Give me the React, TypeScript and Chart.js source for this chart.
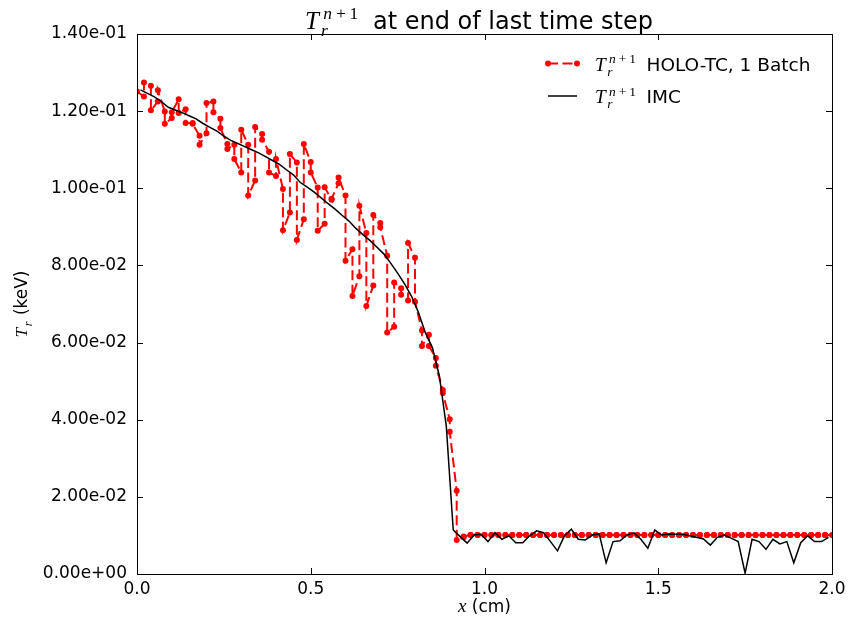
import React, { useEffect, useRef } from "react";
import { Chart, registerables } from "chart.js";

Chart.register(...registerables);

// Cell edges (cm) of the HOLO-TC mesh
const cellEdges = [
  0.0, 0.02, 0.04, 0.06, 0.08, 0.1, 0.12, 0.14, 0.16, 0.18,
  0.2, 0.22, 0.24, 0.26, 0.28, 0.3, 0.32, 0.34, 0.36, 0.38,
  0.4, 0.42, 0.44, 0.46, 0.48, 0.5, 0.52, 0.54, 0.56, 0.58,
  0.6, 0.62, 0.64, 0.66, 0.68, 0.7, 0.72, 0.74, 0.76, 0.78,
  0.8, 0.82, 0.84, 0.86, 0.88, 0.9, 0.92, 0.94, 0.96, 0.98,
  1.0, 1.02, 1.04, 1.06, 1.08, 1.1, 1.12, 1.14, 1.16, 1.18,
  1.2, 1.22, 1.24, 1.26, 1.28, 1.3, 1.32, 1.34, 1.36, 1.38,
  1.4, 1.42, 1.44, 1.46, 1.48, 1.5, 1.52, 1.54, 1.56, 1.58,
  1.6, 1.62, 1.64, 1.66, 1.68, 1.7, 1.72, 1.74, 1.76, 1.78,
  1.8, 1.82, 1.84, 1.86, 1.88, 1.9, 1.92, 1.94, 1.96, 1.98,
  2.0,
];

// Cell centres (cm) of the IMC mesh
const cellCenters = [
  0.01, 0.03, 0.05, 0.07, 0.09, 0.11, 0.13, 0.15, 0.17, 0.19,
  0.21, 0.23, 0.25, 0.27, 0.29, 0.31, 0.33, 0.35, 0.37, 0.39,
  0.41, 0.43, 0.45, 0.47, 0.49, 0.51, 0.53, 0.55, 0.57, 0.59,
  0.61, 0.63, 0.65, 0.67, 0.69, 0.71, 0.73, 0.75, 0.77, 0.79,
  0.81, 0.83, 0.85, 0.87, 0.89, 0.91, 0.93, 0.95, 0.97, 0.99,
  1.01, 1.03, 1.05, 1.07, 1.09, 1.11, 1.13, 1.15, 1.17, 1.19,
  1.21, 1.23, 1.25, 1.27, 1.29, 1.31, 1.33, 1.35, 1.37, 1.39,
  1.41, 1.43, 1.45, 1.47, 1.49, 1.51, 1.53, 1.55, 1.57, 1.59,
  1.61, 1.63, 1.65, 1.67, 1.69, 1.71, 1.73, 1.75, 1.77, 1.79,
  1.81, 1.83, 1.85, 1.87, 1.89, 1.91, 1.93, 1.95, 1.97, 1.99,
];

// HOLO-TC, value at the left edge of each cell (keV)
const holoLeft = [
  0.1251, 0.1274, 0.1202, 0.1254, 0.1167, 0.1197, 0.1195, 0.1169, 0.1167, 0.1113,
  0.1221, 0.1197, 0.1156, 0.1102, 0.1076, 0.1152, 0.0981, 0.1159, 0.1126, 0.1041,
  0.1076, 0.0891, 0.1089, 0.0866, 0.1115, 0.1041, 0.089, 0.1003, 0.0973, 0.1028,
  0.0812, 0.0721, 0.0955, 0.0695, 0.0931, 0.0899, 0.0626, 0.0756, 0.0724, 0.0858,
  0.0706, 0.0591, 0.0591, 0.054, 0.0469, 0.0369, 0.0088, 0.0097, 0.0101, 0.0101,
  0.0101, 0.0101, 0.0101, 0.0101, 0.0101, 0.0101, 0.0101, 0.0101, 0.0101, 0.0101,
  0.0101, 0.0101, 0.0101, 0.0101, 0.0101, 0.0101, 0.0101, 0.0101, 0.0101, 0.0101,
  0.0101, 0.0101, 0.0101, 0.0101, 0.0101, 0.0101, 0.0101, 0.0101, 0.0101, 0.0101,
  0.0101, 0.0101, 0.0101, 0.0101, 0.0101, 0.0101, 0.0101, 0.0101, 0.0101, 0.0101,
  0.0101, 0.0101, 0.0101, 0.0101, 0.0101, 0.0101, 0.0101, 0.0101, 0.0101, 0.0101,
];

// HOLO-TC, value at the right edge of each cell (keV)
const holoRight = [
  0.1238, 0.1266, 0.1225, 0.1199, 0.1182, 0.1231, 0.1205, 0.1169, 0.1136, 0.1143,
  0.1225, 0.118, 0.1115, 0.1113, 0.1041, 0.1113, 0.102, 0.1141, 0.1095, 0.1032,
  0.0998, 0.0937, 0.1067, 0.092, 0.1068, 0.1002, 0.0908, 0.097, 0.1013, 0.0981,
  0.0842, 0.0772, 0.0884, 0.0748, 0.091, 0.0825, 0.0641, 0.0741, 0.0709, 0.082,
  0.0631, 0.062, 0.056, 0.0477, 0.0401, 0.0216, 0.0095, 0.0101, 0.0101, 0.0101,
  0.0101, 0.0101, 0.0101, 0.0101, 0.0101, 0.0101, 0.0101, 0.0101, 0.0101, 0.0101,
  0.0101, 0.0101, 0.0101, 0.0101, 0.0101, 0.0101, 0.0101, 0.0101, 0.0101, 0.0101,
  0.0101, 0.0101, 0.0101, 0.0101, 0.0101, 0.0101, 0.0101, 0.0101, 0.0101, 0.0101,
  0.0101, 0.0101, 0.0101, 0.0101, 0.0101, 0.0101, 0.0101, 0.0101, 0.0101, 0.0101,
  0.0101, 0.0101, 0.0101, 0.0101, 0.0101, 0.0101, 0.0101, 0.0101, 0.0101, 0.0101,
];

// IMC, cell-averaged values (keV)
const imcValues = [
  0.1255, 0.1246, 0.1237, 0.1225, 0.121, 0.1203, 0.1196, 0.1188, 0.118, 0.1168,
  0.1158, 0.1148, 0.1135, 0.1124, 0.1116, 0.1108, 0.11, 0.1092, 0.1082, 0.1072,
  0.1062, 0.1048, 0.1035, 0.1015, 0.1003, 0.099, 0.0975, 0.096, 0.0946, 0.093,
  0.0915, 0.0896, 0.088, 0.0865, 0.0848, 0.083, 0.0806, 0.078, 0.0752, 0.072,
  0.0678, 0.0625, 0.0587, 0.0514, 0.0384, 0.0114, 0.0097, 0.008, 0.0101, 0.0103,
  0.0084, 0.0107, 0.009, 0.0099, 0.0081, 0.0081, 0.0099, 0.0112, 0.0107, 0.0084,
  0.006, 0.0099, 0.0116, 0.009, 0.0088, 0.0101, 0.0104, 0.0029, 0.0084, 0.0086,
  0.0101, 0.0107, 0.009, 0.0067, 0.0114, 0.0101, 0.0104, 0.0103, 0.0103, 0.0099,
  0.0095, 0.0091, 0.0075, 0.0095, 0.0101, 0.0093, 0.0084, 0.0002, 0.009, 0.0084,
  0.0064, 0.009, 0.0078, 0.0084, 0.0029, 0.0081, 0.0099, 0.0084, 0.0084, 0.0095,
];

const xTickValues = [0, 0.5, 1, 1.5, 2];
const xTickLabels = ["0.0", "0.5", "1.0", "1.5", "2.0"];
const yTickValues = [0, 0.02, 0.04, 0.06, 0.08, 0.1, 0.12, 0.14];
const yTickLabels = [
  "0.00e+00", "2.00e-02", "4.00e-02", "6.00e-02",
  "8.00e-02", "1.00e-01", "1.20e-01", "1.40e-01",
];

const titleText = "at end of last time step";
const holoLabel = "HOLO-TC, 1 Batch";
const imcLabel = "IMC";
const xAxisLabel = " (cm)";
const yAxisLabel = " (keV)";

const SANS = '"DejaVu Sans", sans-serif';
const SERIF = '"Liberation Serif", "DejaVu Serif", serif';
const RED = "#ff0000";
const DASH = [10, 4.5];

function drawTr(ctx: CanvasRenderingContext2D, x: number, base: number, s: number, withSup: boolean) {
  const big = 25 * s;
  const small = 17.5 * s;
  ctx.textAlign = "left";
  ctx.textBaseline = "alphabetic";
  ctx.font = `italic ${big}px ${SERIF}`;
  ctx.fillText("T", x, base);
  ctx.font = `italic ${small}px ${SERIF}`;
  ctx.fillText("r", x + 16 * s, base + 6.5 * s);
  if (withSup) {
    ctx.fillText("n", x + 18.3 * s, base - 10 * s);
    ctx.font = `${small}px ${SERIF}`;
    ctx.fillText("+", x + 31 * s, base - 10 * s);
    ctx.fillText("1", x + 44.5 * s, base - 10 * s);
  }
}

const decorPlugin = {
  id: "decor",
  afterDraw(chart: any) {
    const { ctx, chartArea: a, scales } = chart;
    const xs = scales.x;
    const ys = scales.y;
    ctx.save();
    ctx.strokeStyle = "#000";
    ctx.fillStyle = "#000";
    ctx.lineWidth = 1;
    ctx.setLineDash([]);
    // frame
    ctx.strokeRect(a.left + 0.5, a.top + 0.5, a.right - a.left, a.bottom - a.top);
    // inward ticks on all sides
    const tl = 6;
    ctx.beginPath();
    xTickValues.forEach((v) => {
      const px = Math.round(xs.getPixelForValue(v)) + 0.5;
      ctx.moveTo(px, a.bottom);
      ctx.lineTo(px, a.bottom - tl);
      ctx.moveTo(px, a.top);
      ctx.lineTo(px, a.top + tl);
    });
    yTickValues.forEach((v) => {
      const py = Math.round(ys.getPixelForValue(v)) + 0.5;
      ctx.moveTo(a.left, py);
      ctx.lineTo(a.left + tl, py);
      ctx.moveTo(a.right, py);
      ctx.lineTo(a.right - tl, py);
    });
    ctx.stroke();

    // title
    const tx = 305;
    drawTr(ctx, tx, 29, 1, true);
    ctx.font = `24px ${SANS}`;
    ctx.textAlign = "left";
    ctx.fillText(titleText, tx + 68, 29);

    // legend
    const lx0 = 548;
    const lx1 = 577;
    const r1 = 63.5;
    const r2 = 96;
    ctx.strokeStyle = RED;
    ctx.lineWidth = 2;
    ctx.setLineDash(DASH);
    ctx.beginPath();
    ctx.moveTo(lx0, r1);
    ctx.lineTo(lx1, r1);
    ctx.stroke();
    ctx.setLineDash([]);
    ctx.fillStyle = RED;
    [lx0, lx1].forEach((px) => {
      ctx.beginPath();
      ctx.arc(px, r1, 3, 0, Math.PI * 2);
      ctx.fill();
    });
    ctx.strokeStyle = "#000";
    ctx.lineWidth = 1.5;
    ctx.beginPath();
    ctx.moveTo(lx0, r2);
    ctx.lineTo(lx1, r2);
    ctx.stroke();
    ctx.fillStyle = "#000";
    const s = 0.77;
    drawTr(ctx, 595, 70.7, s, true);
    drawTr(ctx, 595, 103.2, s, true);
    ctx.font = `18.5px ${SANS}`;
    ctx.textAlign = "left";
    ctx.fillText(holoLabel, 646.5, 70.7);
    ctx.fillText(imcLabel, 646.5, 103.2);

    // x-axis label
    ctx.font = `17px ${SANS}`;
    const restW = ctx.measureText(xAxisLabel).width;
    ctx.font = `italic 19px ${SERIF}`;
    const xW = ctx.measureText("x").width;
    const cx = (a.left + a.right) / 2;
    const startX = cx - (xW + restW) / 2;
    ctx.fillText("x", startX, 612);
    ctx.font = `17px ${SANS}`;
    ctx.fillText(xAxisLabel, startX + xW, 612);

    // y-axis label
    ctx.save();
    const cy = (a.top + a.bottom) / 2;
    ctx.translate(27, cy);
    ctx.rotate(-Math.PI / 2);
    ctx.font = `17px ${SANS}`;
    const kevW = ctx.measureText(yAxisLabel).width;
    const trW = 17;
    const sx = -(trW + kevW) / 2;
    drawTr(ctx, sx, 0, 0.7, false);
    ctx.font = `17px ${SANS}`;
    ctx.textAlign = "left";
    ctx.fillText(yAxisLabel, sx + trW, 0);
    ctx.restore();

    ctx.restore();
  },
};

export default function App() {
  const canvasRef = useRef<HTMLCanvasElement | null>(null);

  useEffect(() => {
    if (!canvasRef.current) return;
    const holoData: { x: number; y: number }[] = [];
    holoLeft.forEach((v, i) => {
      holoData.push({ x: cellEdges[i], y: v });
      holoData.push({ x: cellEdges[i + 1], y: holoRight[i] });
    });
    const imcData = imcValues.map((v, i) => ({ x: cellCenters[i], y: v }));

    const chart = new Chart(canvasRef.current, {
      type: "scatter",
      data: {
        datasets: [
          {
            label: "IMC",
            data: imcData,
            showLine: true,
            borderColor: "#000000",
            backgroundColor: "#000000",
            borderWidth: 1.5,
            pointRadius: 0,
            order: 0,
          },
          {
            label: "HOLO-TC, 1 Batch",
            data: holoData,
            showLine: true,
            borderColor: RED,
            backgroundColor: RED,
            borderWidth: 2,
            borderDash: DASH,
            pointRadius: 3,
            pointBorderWidth: 0,
            pointBackgroundColor: RED,
            order: 1,
          },
        ],
      },
      options: {
        animation: false,
        responsive: true,
        maintainAspectRatio: false,
        layout: { padding: { top: 34, right: 19, left: 0, bottom: 0 } },
        plugins: {
          legend: { display: false },
          title: { display: false },
          tooltip: { enabled: false },
        },
        scales: {
          x: {
            type: "linear",
            min: 0,
            max: 2,
            grid: { display: false, drawTicks: false },
            border: { display: false },
            afterBuildTicks: (sc: any) => {
              sc.ticks = xTickValues.map((v) => ({ value: v }));
            },
            afterFit: (sc: any) => {
              sc.height = 52;
            },
            ticks: {
              autoSkip: false,
              maxRotation: 0,
              padding: 5,
              color: "#000",
              font: { family: SANS, size: 17 },
              callback: (_v: any, i: number) => xTickLabels[i],
            },
          },
          y: {
            type: "linear",
            min: 0,
            max: 0.14,
            grid: { display: false, drawTicks: false },
            border: { display: false },
            afterBuildTicks: (sc: any) => {
              sc.ticks = yTickValues.map((v) => ({ value: v }));
            },
            afterFit: (sc: any) => {
              sc.width = 137;
            },
            ticks: {
              autoSkip: false,
              padding: 10,
              color: "#000",
              font: { family: SANS, size: 17 },
              callback: (_v: any, i: number) => yTickLabels[i],
            },
          },
        },
      },
      plugins: [decorPlugin],
    } as any);
    return () => chart.destroy();
  }, []);

  return (
    <div
      style={{
        position: "absolute",
        left: 0,
        top: 0,
        width: 851,
        height: 626,
        background: "#fff",
      }}
    >
      <canvas ref={canvasRef} />
    </div>
  );
}
